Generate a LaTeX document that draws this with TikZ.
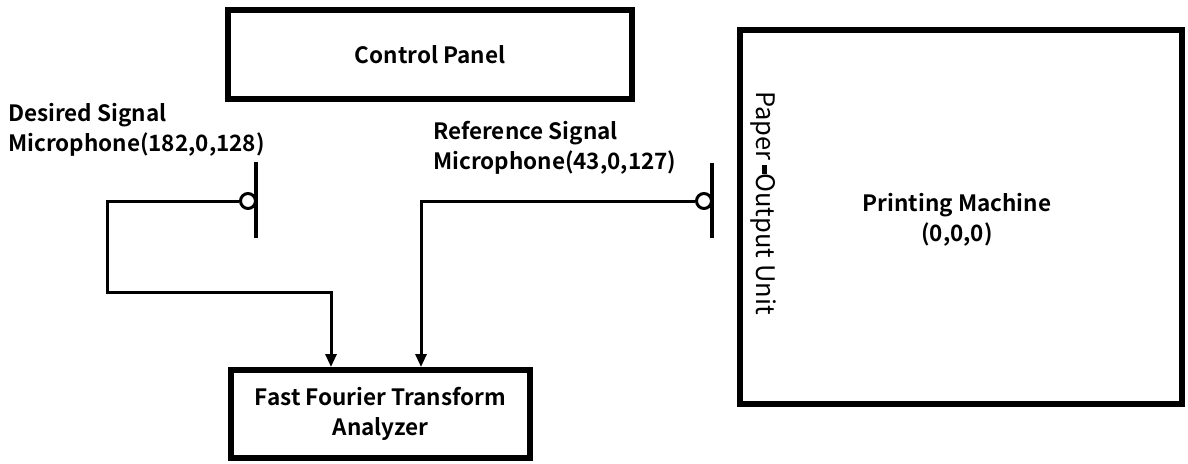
\documentclass[tikz,border=0pt]{standalone}
\usepackage{fontspec}
\setmainfont{Noto Sans CJK JP}[BoldFont={* Bold}]
\usetikzlibrary{arrows.meta}
\begin{document}
\begin{tikzpicture}[x=1pt,y=-1pt,
  box/.style={draw,line width=6pt,inner sep=0pt,font=\bfseries\fontsize{22.5}{30}\selectfont,align=center},
  lbl/.style={font=\bfseries\fontsize{22.5}{30}\selectfont,align=left,anchor=west,inner sep=0pt},
  wire/.style={line width=3pt},
  arr/.style={wire,-{Triangle[length=13pt,width=11pt]}},
  mic/.style={draw,circle,line width=3pt,minimum size=15pt,inner sep=0pt,fill=white},
  bar/.style={line width=3.5pt}]
\useasboundingbox (0,0) rectangle (1188,463);
% boxes
\node[box,minimum width=404pt,minimum height=89pt] (cp) at (430,54.5) {Control Panel};
\node[box,minimum width=299pt,minimum height=88pt] (fft) at (380.5,414) {Fast Fourier Transform\\Analyzer};
\node[box,minimum width=442pt,minimum height=374pt] (pm) at (961,217) {};
\node[font=\bfseries\fontsize{22.5}{30}\selectfont,align=center] (pmt) at (957,220) {Printing Machine\\(0,0,0)};
\node[font=\fontsize{25.5}{26}\selectfont,rotate=-90,inner sep=0pt] (pou) at (763,203) {Paper\,\rule[0.22em]{0.35em}{0.22em}Output Unit};
% labels
\node[lbl] (dl) at (8,130) {Desired Signal\\Microphone(182,0,128)};
\node[lbl] (rl) at (433,148) {Reference Signal\\Microphone(43,0,127)};
% desired mic
\coordinate (db1) at (256,162);
\coordinate (db2) at (256,238);
\draw[bar] (db1) -- (db2);
\node[mic] (dm) at (248,201) {};
% reference mic
\coordinate (rb1) at (712,163);
\coordinate (rb2) at (712,238);
\draw[bar] (rb1) -- (rb2);
\node[mic] (rm) at (704,201) {};
% wires
\coordinate (d1) at (107,201);
\coordinate (d2) at (107,292);
\coordinate (d3) at (331,292);
\draw[arr] (dm.west) -- (d1) -- (d2) -- (d3) -- (d3 |- fft.north);
\coordinate (r1) at (421,201);
\draw[arr] (rm.west) -- (r1) -- (r1 |- fft.north);
\end{tikzpicture}
\end{document}
